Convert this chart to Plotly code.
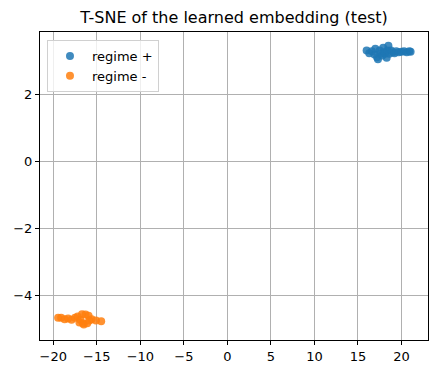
import plotly.graph_objects as go

pos_x = [16.0, 16.3, 16.6, 16.9, 17.0, 17.2, 17.3, 17.5, 17.6, 17.8, 17.9, 18.0, 18.1, 18.3,
         18.4, 18.5, 18.6, 18.8, 19.0, 19.2, 19.4, 19.7, 20.0, 20.3, 20.6, 20.9, 21.05]
pos_y = [3.30, 3.22, 3.28, 3.18, 3.35, 3.10, 3.04, 3.30, 3.20, 3.15, 3.38, 3.25, 3.20, 3.08,
         3.30, 3.44, 3.20, 3.30, 3.25, 3.22, 3.28, 3.25, 3.26, 3.28, 3.25, 3.28, 3.26]
neg_x = [-19.45, -19.1, -18.7, -18.3, -17.9, -17.5, -17.2, -17.0, -16.9, -16.7, -16.6, -16.5,
         -16.3, -16.1, -15.95, -15.85, -15.6, -15.1, -14.5]
neg_y = [-4.66, -4.66, -4.70, -4.68, -4.72, -4.66, -4.62, -4.80, -4.72, -4.55, -4.82, -4.86,
         -4.56, -4.82, -4.60, -4.74, -4.70, -4.74, -4.76]

x_ticks = [-20, -15, -10, -5, 0, 5, 10, 15, 20]
y_ticks = [-4, -2, 0, 2]


def fmt(v):
    return ("\u2212" + str(-v)) if v < 0 else str(v)


fig = go.Figure()
fig.add_trace(go.Scatter(x=pos_x, y=pos_y, mode="markers", name="regime +",
                         marker=dict(color="#1f77b4", size=8, opacity=0.85, line=dict(width=0))))
fig.add_trace(go.Scatter(x=neg_x, y=neg_y, mode="markers", name="regime -",
                         marker=dict(color="#ff7f0e", size=8, opacity=0.85, line=dict(width=0))))

axis_common = dict(showgrid=True, gridcolor="#b0b0b0", gridwidth=1, zeroline=False,
                   showline=True, linecolor="black", linewidth=1, mirror=True,
                   ticks="outside", ticklen=4, tickcolor="black", automargin=False,
                   tickfont=dict(family="DejaVu Sans", size=13, color="black"))

# page body has an 8px default margin, so the figure is sized to fit in the window
W, H = 429, 366
fig.update_layout(
    width=W, height=H,
    margin=dict(l=32, r=9, t=24, b=34, autoexpand=False),
    paper_bgcolor="white", plot_bgcolor="white",
    title=dict(text="T-SNE of the learned embedding (test)", x=0.5, xref="paper",
               xanchor="center", y=1 - 9 / H, yref="container", yanchor="middle",
               font=dict(family="DejaVu Sans", size=16, color="black")),
    xaxis=dict(range=[-21.53, 23.05], tickvals=x_ticks, ticktext=[fmt(v) for v in x_ticks],
               **axis_common),
    yaxis=dict(range=[-5.32, 3.85], tickvals=y_ticks, ticktext=[fmt(v) for v in y_ticks],
               **axis_common),
    legend=dict(x=0.018, y=0.974, xanchor="left", yanchor="top", itemwidth=34,
                bgcolor="rgba(255,255,255,0.8)", bordercolor="#d0d0d0", borderwidth=1,
                font=dict(family="DejaVu Sans", size=13, color="black")),
    showlegend=True,
)

fig.write_html("out.html")
